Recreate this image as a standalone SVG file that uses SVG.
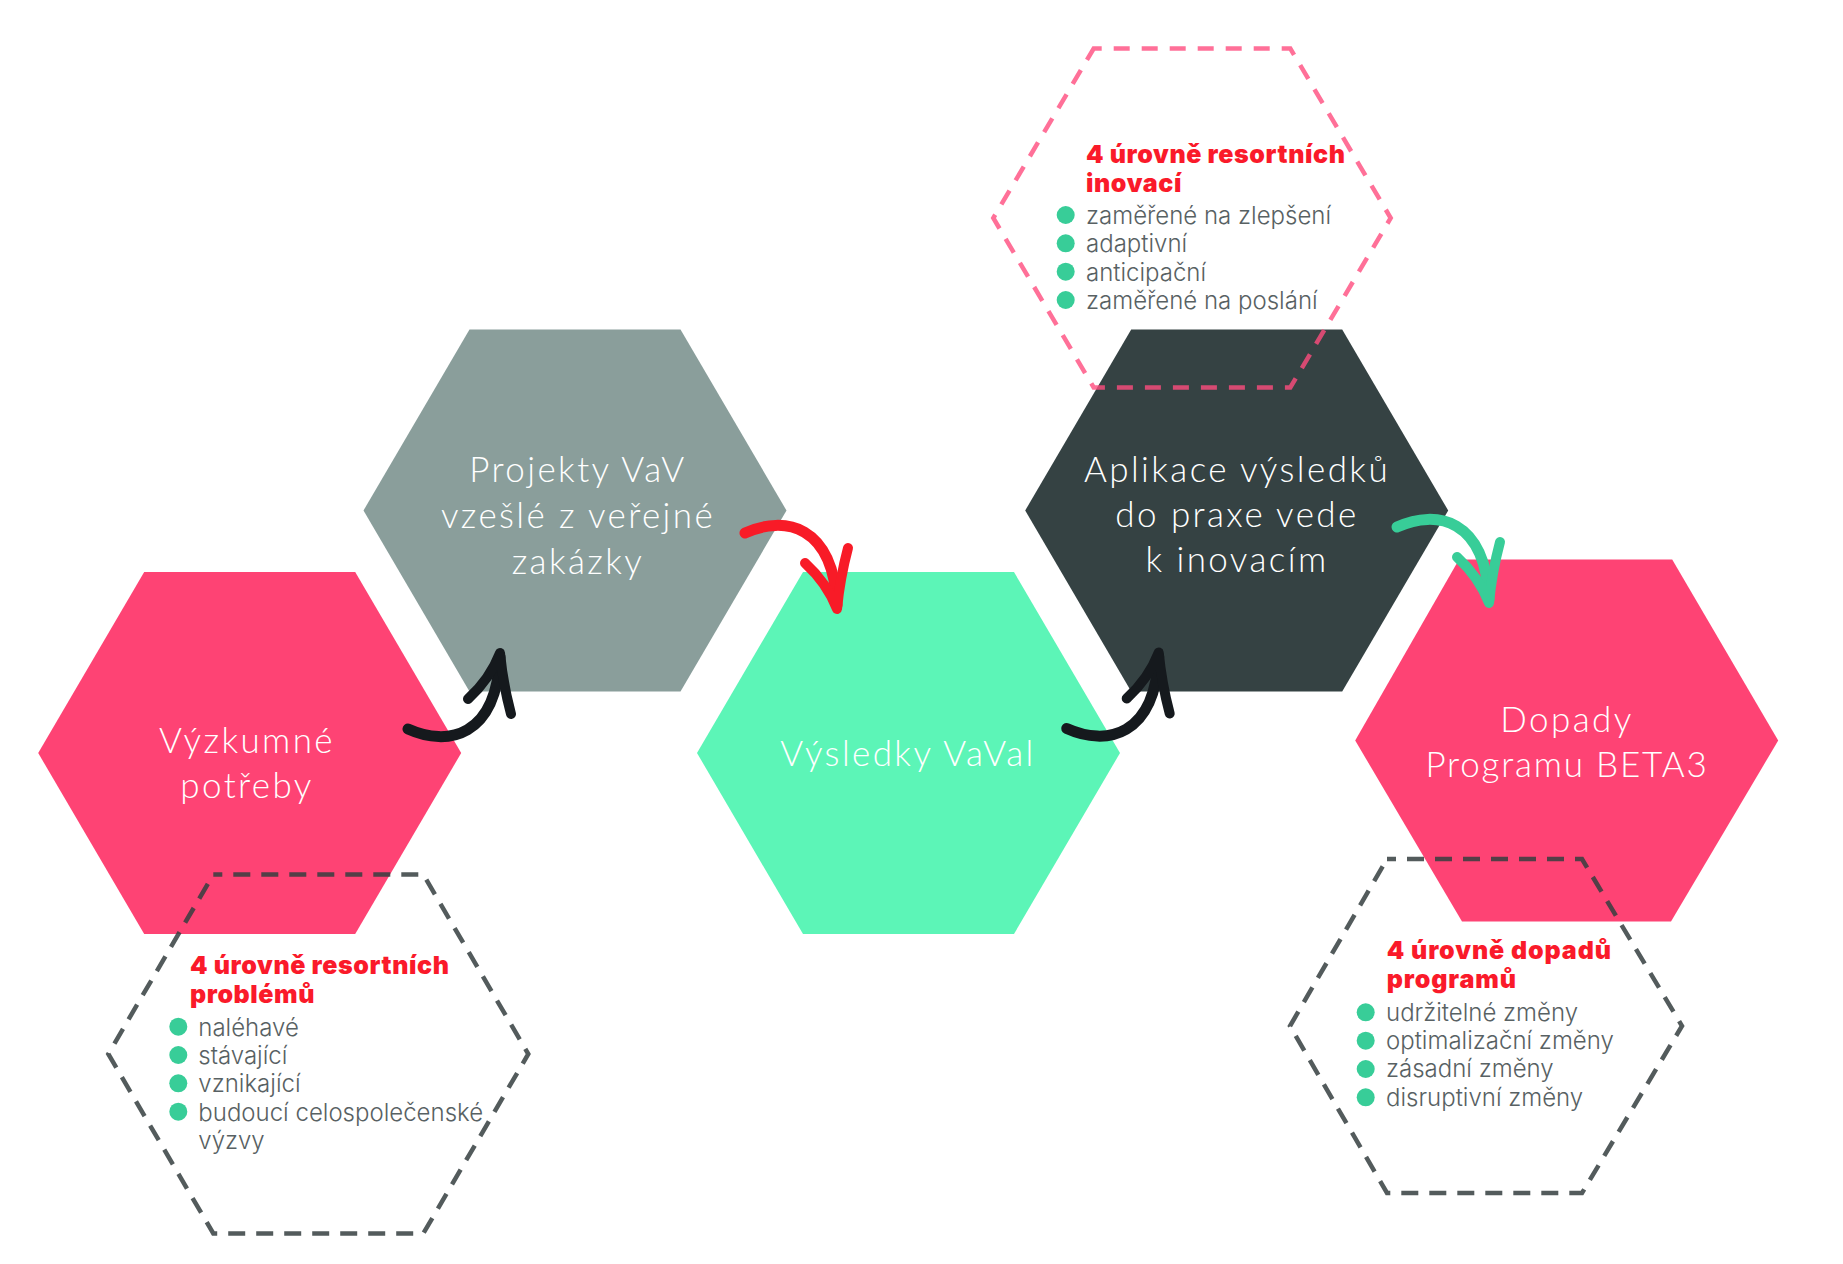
<svg xmlns="http://www.w3.org/2000/svg" width="1843" height="1264" viewBox="0 0 1843 1264">
<style>
.lbl{font-family:"Lato","Open Sans","DejaVu Sans",sans-serif;font-weight:300;font-size:35px;fill:#ffffff;text-anchor:middle;letter-spacing:2.4px}
.hdr{font-family:"Inter","Roboto","DejaVu Sans",sans-serif;font-weight:900;font-size:25px;fill:#fa1a2a;letter-spacing:0.6px}
.item{font-family:"Inter","Roboto","DejaVu Sans",sans-serif;font-weight:300;font-size:24px;fill:#586163}
.dot{fill:#38cd98}
.dash-gray{fill:none;stroke:#353e3f;stroke-opacity:0.85;stroke-width:4.5;stroke-dasharray:17 11;stroke-dashoffset:8}
.dash-pink{fill:none;stroke:#ff4c7e;stroke-opacity:0.8;stroke-width:4.5;stroke-dasharray:16 12;stroke-dashoffset:8}
.pink{fill:#fe4374}.gray{fill:#8a9e9b}.green{fill:#5cf5b7}.dark{fill:#354243}
</style>
<defs>
<g id="arrow-shape" fill="none" stroke="currentColor" stroke-linecap="round" stroke-linejoin="round">
<path d="M0,0 C40,-18 88,-8 92,72" stroke-width="11"/>
<path d="M60,30 Q82,50 92,76 Q95,45 103,15" stroke-width="10"/>
</g>
</defs>
<rect width="1843" height="1264" fill="#ffffff"/>
<g id="node-vyzkumne-potreby">
<polygon class="pink" points="38.2,753 144.2,572 355.2,572 461.2,753 355.2,934 144.2,934"/>
<text class="lbl" x="247" y="752.7">Výzkumné</text>
<text class="lbl" x="247" y="798.3">potřeby</text>
</g>
<g id="node-projekty-vav">
<polygon class="gray" points="363.5,510.5 469.5,329.5 680.5,329.5 786.5,510.5 680.5,691.5 469.5,691.5"/>
<text class="lbl" x="578" y="481.7">Projekty VaV</text>
<text class="lbl" x="578" y="528.3">vzešlé z veřejné</text>
<text class="lbl" x="578" y="574.3">zakázky</text>
</g>
<g id="node-vysledky-vaval">
<polygon class="green" points="697,753 803,572 1014,572 1120,753 1014,934 803,934"/>
<text class="lbl" x="908" y="765.7">Výsledky VaVal</text>
</g>
<g id="node-aplikace">
<polygon class="dark" points="1025.2,510.5 1131.2,329.5 1342.2,329.5 1448.2,510.5 1342.2,691.5 1131.2,691.5"/>
<text class="lbl" x="1237" y="481.7">Aplikace výsledků</text>
<text class="lbl" x="1237" y="526.7">do praxe vede</text>
<text class="lbl" x="1237" y="571.7">k inovacím</text>
</g>
<g id="node-dopady">
<polygon class="pink" points="1355.2,740.5 1459,559.5 1672.2,559.5 1778.2,740.5 1671,921.5 1462,921.5"/>
<text class="lbl" x="1567" y="731.7">Dopady</text>
<text class="lbl" x="1567" y="777.3" style="letter-spacing:1.8px">Programu BETA3</text>
</g>
<g id="info-problemy">
<polygon class="dash-gray" points="213.3,874.5 423.3,874.5 528.3,1054 423.3,1233.5 213.3,1233.5 108.3,1054"/>
<text class="hdr" x="190" y="974.3">4 úrovně resortních</text>
<text class="hdr" x="190" y="1002.7">problémů</text>
<circle class="dot" cx="178.3" cy="1026.7" r="9"/>
<circle class="dot" cx="178.3" cy="1055" r="9"/>
<circle class="dot" cx="178.3" cy="1083.3" r="9"/>
<circle class="dot" cx="178.3" cy="1111.7" r="9"/>
<text class="item" x="198.3" y="1035.5">naléhavé</text>
<text class="item" x="198.3" y="1063.8">stávající</text>
<text class="item" x="198.3" y="1092.2">vznikající</text>
<text class="item" x="198.3" y="1120.5">budoucí celospolečenské</text>
<text class="item" x="198.3" y="1148.8">výzvy</text>
</g>
<g id="info-inovace">
<polygon class="dash-pink" points="1093.7,48.5 1290.3,48.5 1390.7,218 1290.3,387.5 1093.7,387.5 993.3,218"/>
<text class="hdr" x="1086" y="162.7">4 úrovně resortních</text>
<text class="hdr" x="1086" y="191.7">inovací</text>
<circle class="dot" cx="1065.7" cy="215" r="9"/>
<circle class="dot" cx="1065.7" cy="243.3" r="9"/>
<circle class="dot" cx="1065.7" cy="271.7" r="9"/>
<circle class="dot" cx="1065.7" cy="300" r="9"/>
<text class="item" x="1086" y="224">zaměřené na zlepšení</text>
<text class="item" x="1086" y="252.3">adaptivní</text>
<text class="item" x="1086" y="280.7">anticipační</text>
<text class="item" x="1086" y="309">zaměřené na poslání</text>
</g>
<g id="info-dopady">
<polygon class="dash-gray" points="1387,859 1582,859 1682,1026 1582,1193 1387,1193 1290,1026"/>
<text class="hdr" x="1386.7" y="959" style="letter-spacing:0.9px">4 úrovně dopadů</text>
<text class="hdr" x="1386.7" y="988.3" style="letter-spacing:0.9px">programů</text>
<circle class="dot" cx="1365.7" cy="1012.3" r="9"/>
<circle class="dot" cx="1365.7" cy="1040.7" r="9"/>
<circle class="dot" cx="1365.7" cy="1069" r="9"/>
<circle class="dot" cx="1365.7" cy="1097.3" r="9"/>
<text class="item" x="1386" y="1020.5">udržitelné změny</text>
<text class="item" x="1386" y="1049">optimalizační změny</text>
<text class="item" x="1386" y="1077.3">zásadní změny</text>
<text class="item" x="1386" y="1105.7">disruptivní změny</text>
</g>
<g id="connectors">
<use href="#arrow-shape" transform="translate(408,729) scale(1,-1)" style="color:#15191d"/>
<use href="#arrow-shape" transform="translate(745,533)" style="color:#f81b27"/>
<use href="#arrow-shape" transform="translate(1066.7,728.5) scale(1,-1)" style="color:#15191d"/>
<use href="#arrow-shape" transform="translate(1397,527)" style="color:#38cd98"/>
</g>
</svg>
